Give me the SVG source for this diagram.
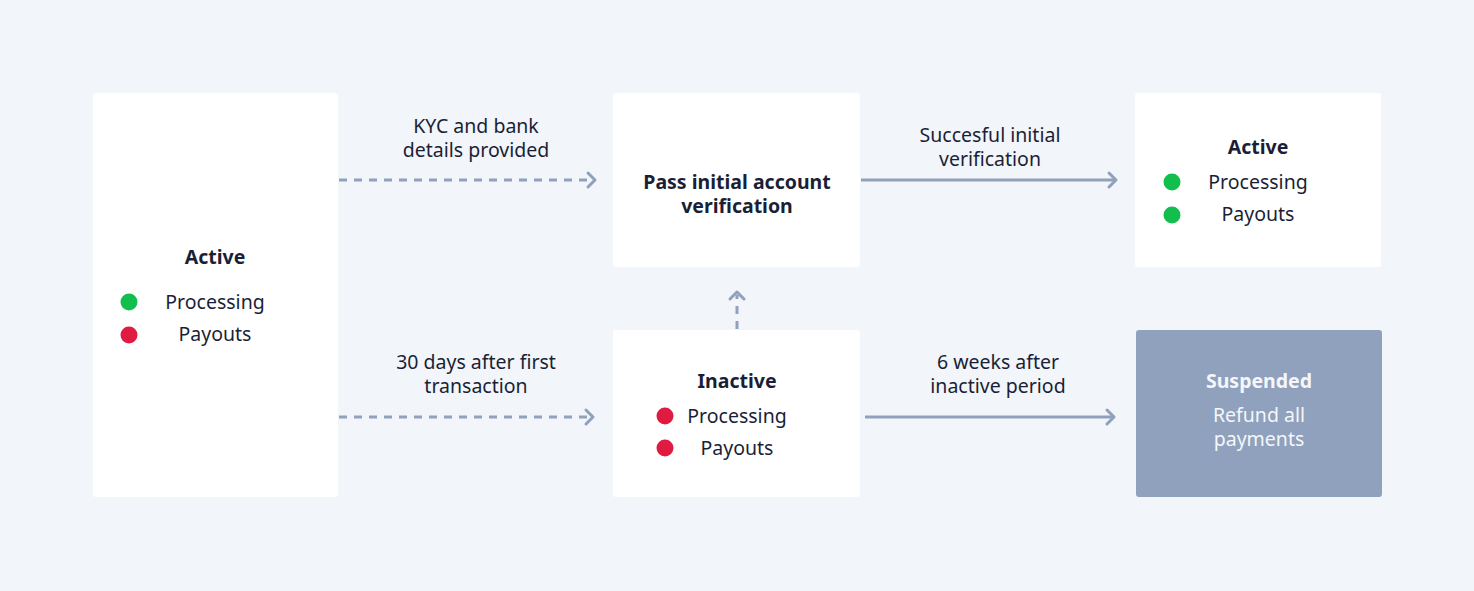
<svg xmlns="http://www.w3.org/2000/svg" width="1474" height="591" viewBox="0 0 1474 591">
<defs>
<style>
.bg{fill:#f2f5f9}
.box{fill:#ffffff}
.sus{fill:#8fa1bc}
text{font-family:"Noto Sans",Lato,"DejaVu Sans",sans-serif;font-size:19.5px;fill:#1a1f36;text-anchor:middle}
.b{font-weight:bold}
.w{fill:#f4f6fa}
.con{stroke:#8fa1bc;stroke-width:3;fill:none}
.dash{stroke-dasharray:8 7}
.head{stroke:#8fa1bc;stroke-width:3;fill:none;stroke-linecap:round;stroke-linejoin:round}
.g{fill:#12bf4c}
.r{fill:#df1b41}
</style>
</defs>
<rect class="bg" x="0" y="0" width="1474" height="591"/>
<g id="connectors">
<line class="con dash" x1="339" y1="180" x2="592" y2="180"/>
<polyline class="head" points="588,173 595,180 588,187"/>
<line class="con dash" x1="339" y1="417" x2="590" y2="417"/>
<polyline class="head" points="586,410 593,417 586,424"/>
<line class="con" x1="861" y1="180" x2="1115" y2="180"/>
<polyline class="head" points="1109,173 1116,180 1109,187"/>
<line class="con" x1="865" y1="417" x2="1113" y2="417"/>
<polyline class="head" points="1107,410 1114,417 1107,424"/>
<line class="con dash" x1="737" y1="329" x2="737" y2="295" stroke-dasharray="8 6"/>
<polyline class="head" points="730,299 737,292 744,299"/>
<text x="476" y="133">KYC and bank</text>
<text x="476" y="157">details provided</text>
<text x="476" y="369">30 days after first</text>
<text x="476" y="393">transaction</text>
<text x="990" y="142">Succesful initial</text>
<text x="990" y="166">verification</text>
<text x="998" y="369">6 weeks after</text>
<text x="998" y="393">inactive period</text>
</g>
<g id="node-active-left">
<rect class="box" x="93" y="93" width="245" height="404" rx="3"/>
<text class="b" x="215" y="264">Active</text>
<circle class="g" cx="129" cy="302" r="8.5"/>
<text x="215" y="309">Processing</text>
<circle class="r" cx="129" cy="335" r="8.5"/>
<text x="215" y="341">Payouts</text>
</g>
<g id="node-pass">
<rect class="box" x="613" y="93" width="247" height="174" rx="3"/>
<text class="b" x="737" y="189">Pass initial account</text>
<text class="b" x="737" y="213">verification</text>
</g>
<g id="node-active-right">
<rect class="box" x="1135" y="93" width="246" height="174" rx="3"/>
<text class="b" x="1258" y="154">Active</text>
<circle class="g" cx="1172" cy="182" r="8.5"/>
<text x="1258" y="189">Processing</text>
<circle class="g" cx="1172" cy="215" r="8.5"/>
<text x="1258" y="221">Payouts</text>
</g>
<g id="node-inactive">
<rect class="box" x="613" y="330" width="247" height="167" rx="3"/>
<text class="b" x="737" y="388">Inactive</text>
<circle class="r" cx="665" cy="416" r="8.5"/>
<text x="737" y="423">Processing</text>
<circle class="r" cx="665" cy="448" r="8.5"/>
<text x="737" y="455">Payouts</text>
</g>
<g id="node-suspended">
<rect class="sus" x="1136" y="330" width="246" height="167" rx="3"/>
<text class="b w" x="1259" y="388">Suspended</text>
<text class="w" x="1259" y="422">Refund all</text>
<text class="w" x="1259" y="446">payments</text>
</g>
</svg>
